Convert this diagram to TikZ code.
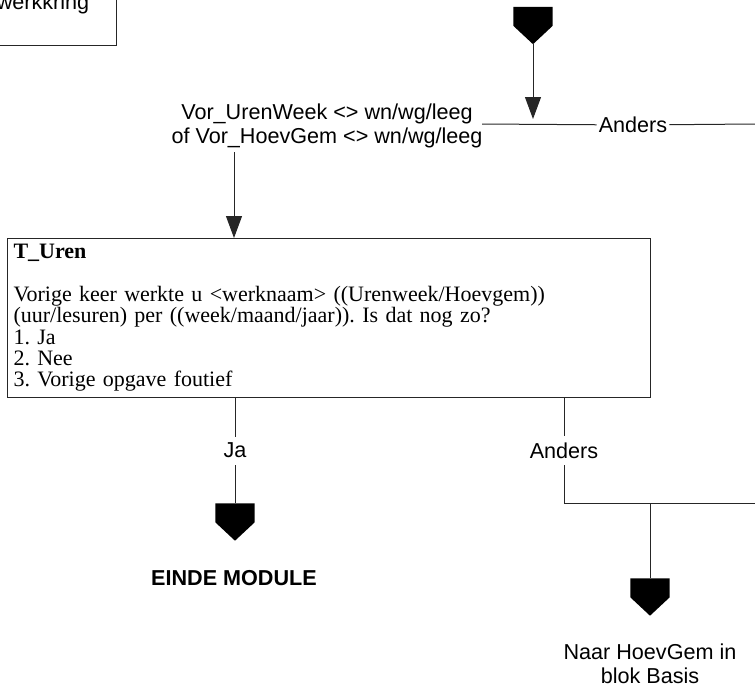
\documentclass[tikz,border=0pt]{standalone}
\usepackage{fontspec}
\setmainfont{Liberation Serif}
\setsansfont{Liberation Sans}
\usetikzlibrary{arrows.meta}
\frenchspacing
\begin{document}
\begin{tikzpicture}[
    x=1pt, y=-1pt,
    line/.style={draw=black!85, line width=1pt},
    arr/.style={line, -{Triangle[length=22pt,width=16pt]}},
    txt/.style={font=\sffamily\fontsize{21.6}{24}\selectfont, inner sep=0pt, align=center},
    lbl/.style={txt, fill=white, inner xsep=2pt, inner ysep=6.5pt},
    qbox/.style={line, font=\fontsize{22}{21.3}\selectfont, align=left, text width=631pt,
        minimum height=159pt, inner xsep=6pt, inner ysep=0pt, anchor=north west},
    offpage/.style={minimum width=39pt, minimum height=37pt, inner sep=0pt}
    ]
    \useasboundingbox (0,0) rectangle (755,691);
    \clip (0,0) rectangle (755,691);
    \node [line, anchor=south east, minimum width=160pt, minimum height=90pt] (vorig) at (117,46) {};
    \node [txt, anchor=base] (werk) at (43,9) {werkkring};
    \node [offpage] (start) at (533,25.5) {};
    \node [txt] (cond) at (327,126) {Vor\_UrenWeek <> wn/wg/leeg\\of Vor\_HoevGem <> wn/wg/leeg};
    \coordinate (split) at (234,152);
    \coordinate (join) at (533,124);
    \coordinate (hl) at (482,124);
    \coordinate (hr) at (755,124);
    \node [qbox] (turen) at (7,238) {\textbf{T\_Uren}\\[21.3pt]
        Vorige keer werkte u <werknaam> ((Urenweek/Hoevgem))\\
        (uur/lesuren) per ((week/maand/jaar)). Is dat nog zo?\\
        1. Ja\\
        2. Nee\\
        3. Vorige opgave foutief};
    \node [lbl] (anders1) at (633,125) {Anders};
    \node [offpage] (einde) at (235,522) {};
    \node [txt, font=\sffamily\bfseries\fontsize{21.6}{24}\selectfont] (eindetxt) at (234,578) {EINDE MODULE};
    \coordinate (knik) at (564,503);
    \coordinate (tak) at (650,503);
    \coordinate (rechts) at (755,503);
    \node [offpage] (basis) at (650,597) {};
    \node [txt] (basistxt) at (650,664) {Naar HoevGem in\\blok Basis};

    \foreach \n in {start,einde,basis}
        \fill (\n.north west) -- (\n.north east) -- ([yshift=-19pt]\n.north east)
            -- (\n.south) -- ([yshift=-19pt]\n.north west) -- cycle;
    \draw [arr] (start.south) -- ([yshift=5pt]join);
    \draw [line] (hl) -- (anders1) -- (hr);
    \draw [arr] (split) -- (split |- turen.north);
    \draw [line] (turen.south -| einde) -- node [lbl] {Ja} (einde.north);
    \draw [line] (turen.south -| knik) -- node [lbl] {Anders} (knik) -- (rechts);
    \draw [line] (tak) -- (basis.north);
\end{tikzpicture}
\end{document}
